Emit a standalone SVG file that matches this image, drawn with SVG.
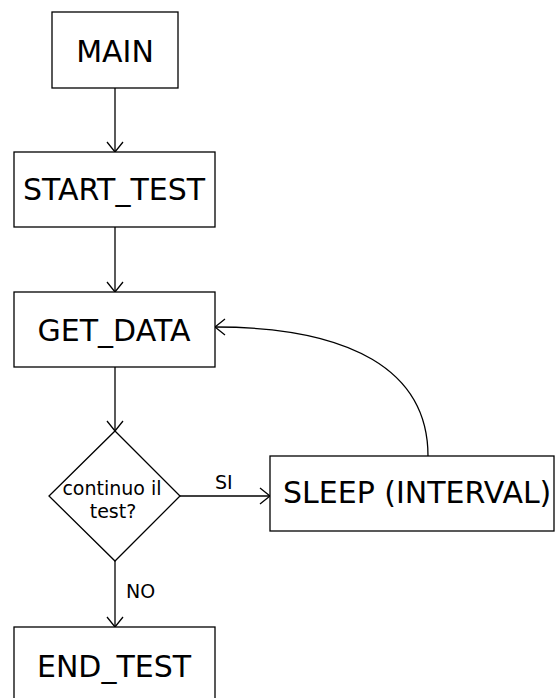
<svg xmlns="http://www.w3.org/2000/svg" width="556" height="698" viewBox="0 0 556 698">
<style>
.box{fill:#fff;stroke:#000;stroke-width:1.3}
.big{font-family:"DejaVu Sans",Verdana,sans-serif;font-size:30px;fill:#000}
.sm{font-family:"DejaVu Sans",Verdana,sans-serif;font-size:19px;fill:#000}
.ln{fill:none;stroke:#000;stroke-width:1.3}
.mid{text-anchor:middle}
</style>
<defs>
<marker id="ah" markerWidth="12" markerHeight="20" refX="11" refY="10" orient="auto" markerUnits="userSpaceOnUse">
<path d="M1,2 L11,10 L1,18" fill="none" stroke="#000" stroke-width="1.3"/>
</marker>
</defs>
<g id="connectors">
<line class="ln" x1="115" y1="88" x2="115" y2="152" marker-end="url(#ah)"/>
<line class="ln" x1="115" y1="227" x2="115" y2="292" marker-end="url(#ah)"/>
<line class="ln" x1="115" y1="367" x2="115" y2="431" marker-end="url(#ah)"/>
<line class="ln" x1="180" y1="496" x2="270" y2="496" marker-end="url(#ah)"/>
<line class="ln" x1="115" y1="561" x2="115" y2="627" marker-end="url(#ah)"/>
<path class="ln" d="M428,456 C428,370 350,327 215,327" marker-end="url(#ah)"/>
<text class="sm" x="215" y="489">SI</text>
<text class="sm" x="126" y="598">NO</text>
</g>
<g id="main"><rect class="box" x="52" y="12" width="126" height="76"/><text class="big mid" x="115" y="62">MAIN</text></g>
<g id="start_test"><rect class="box" x="14" y="152" width="201" height="75"/><text class="big mid" x="114" y="200">START_TEST</text></g>
<g id="get_data"><rect class="box" x="14" y="292" width="201" height="75"/><text class="big mid" x="114" y="341">GET_DATA</text></g>
<g id="decision"><path class="box" d="M115,431 L180,496 L115,561 L49,496 Z"/><text class="sm mid" x="112" y="495">continuo il</text><text class="sm mid" x="113" y="518">test?</text></g>
<g id="sleep"><rect class="box" x="270" y="456" width="284" height="75"/><text class="big" x="283" y="503">SLEEP (INTERVAL)</text></g>
<g id="end_test"><rect class="box" x="14" y="627" width="201" height="80"/><text class="big mid" x="114" y="677">END_TEST</text></g>
</svg>
